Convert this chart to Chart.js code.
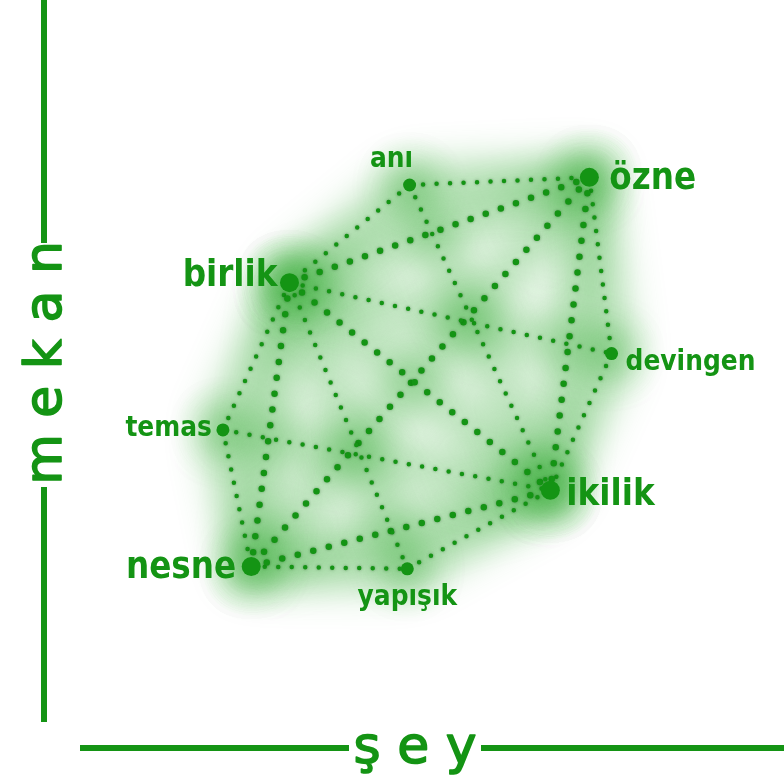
<!DOCTYPE html>
<html><head><meta charset="utf-8">
<script src="https://cdn.jsdelivr.net/npm/chart.js@4/dist/chart.umd.min.js"></script>
<style>html,body{margin:0;padding:0;background:#fff;}#wrap{width:784px;height:782px;}</style>
</head><body><div id="wrap"><canvas id="c" width="784" height="782"></canvas></div>
<script>
// ---- data ----
const nodeNames   = ['anı', 'özne', 'birlik', 'devingen', 'temas', 'ikilik', 'nesne', 'yapışık'];
const seyValues   = [5.23, 7.58, 3.66, 7.87, 2.79, 7.07, 3.16, 5.20];   // horizontal axis "ş e y"
const mekanValues = [7.70, 7.80, 6.42, 5.49, 4.49, 3.70, 2.70, 2.67];   // vertical axis "m e k a n"
const nodeMajor   = [false, true, true, false, false, true, true, false];
const edgeFrom    = ['anı', 'anı',    'anı',    'birlik', 'birlik',   'birlik', 'birlik', 'birlik', 'birlik',  'özne',  'özne',   'özne',     'devingen', 'temas',  'temas', 'nesne',  'nesne',   'yapışık'];
const edgeTo      = ['özne','birlik', 'ikilik', 'özne',   'devingen', 'ikilik', 'nesne',  'temas',  'yapışık', 'nesne', 'ikilik', 'devingen', 'ikilik',   'ikilik', 'nesne', 'ikilik', 'yapışık', 'ikilik'];
const edgeStrong  = [false, false, false, true, false, true, true, false, false, true, true, false, false, false, false, true, false, false];
const axisXTitle  = 'ş e y';
const axisYTitle  = 'm e k a n';

// ---- style ----
const GREEN = '#149414';
const labelStyle = { // dx, dy, align per node
  'anı':      [-18, -18, 'center'],
  'özne':     [ 20,  12, 'left'],
  'birlik':   [-12,   3, 'right'],
  'devingen': [ 14,  16, 'left'],
  'temas':    [-11,   6, 'right'],
  'ikilik':   [ 16,  15, 'left'],
  'nesne':    [-15,  12, 'right'],
  'yapışık':  [  0,  36, 'center']
};

function pt(name){ const i = nodeNames.indexOf(name); return {x: seyValues[i], y: mekanValues[i]}; }

const datasets = [];
datasets.push({
  fx: 'nodes', order: 0,
  data: nodeNames.map((n,i)=>({x: seyValues[i], y: mekanValues[i]})),
  pointRadius: nodeMajor.map(m => m ? 9.5 : 6.5),
  pointBackgroundColor: GREEN, pointBorderWidth: 0, showLine: false
});
edgeFrom.forEach((f,i)=>{
  const s = edgeStrong[i];
  datasets.push({
    fx: 'dots', order: 1,
    data: [pt(f), pt(edgeTo[i])],
    showLine: true, pointRadius: 0,
    borderColor: GREEN, borderWidth: s ? 6.5 : 4.5,
    borderDash: s ? [0, 16] : [0, 13.5], borderCapStyle: 'round'
  });
});
edgeFrom.forEach((f,i)=>{
  datasets.push({
    fx: 'glow', order: 2, clip: false,
    data: [pt(f), pt(edgeTo[i])],
    showLine: true, pointRadius: 0,
    borderColor: '#000', borderWidth: 38, borderCapStyle: 'round'
  });
});

const OFF = 4000;
const fxPlugin = {
  id: 'fx',
  beforeDatasetDraw(chart, args){
    const ds = chart.data.datasets[args.index]; const c = chart.ctx;
    c.save();
    if (ds.fx === 'glow') {
      // draw the stroke off-canvas, keep only its soft shadow
      c.translate(-OFF, 0);
      c.shadowOffsetX = OFF; c.shadowOffsetY = 0;
      c.shadowColor = 'rgba(60,175,60,0.42)'; c.shadowBlur = 38;
    }
    else if (ds.fx === 'dots') { c.shadowColor = 'rgba(0,70,0,0.45)'; c.shadowBlur = 3; }
  },
  afterDatasetDraw(chart){ chart.ctx.restore(); }
};

const labelPlugin = {
  id: 'labels',
  afterDatasetsDraw(chart){
    const c = chart.ctx;
    const meta = chart.getDatasetMeta(0);
    meta.data.forEach((el, i) => {
      const name = nodeNames[i];
      const [dx, dy, align] = labelStyle[name];
      c.save();
      c.translate(el.x + dx, el.y + dy);
      c.scale(0.86, 1);
      c.fillStyle = GREEN;
      c.font = (nodeMajor[i] ? 'bold 38px' : 'bold 29px') + ' "DejaVu Sans", Verdana, sans-serif';
      c.textAlign = align; c.textBaseline = 'alphabetic';
      c.fillText(name, 0, 0);
      c.restore();
    });
  }
};

const axisPlugin = {
  id: 'axisDeco',
  afterDraw(chart){
    const c = chart.ctx; const W = chart.width;
    c.save();
    c.strokeStyle = GREEN; c.fillStyle = GREEN; c.lineWidth = 6; c.lineCap = 'butt';
    c.beginPath();
    c.moveTo(44, 0); c.lineTo(44, 243);
    c.moveTo(44, 487); c.lineTo(44, 722);
    c.moveTo(80, 748); c.lineTo(349, 748);
    c.moveTo(481, 748); c.lineTo(W, 748);
    c.stroke();
    c.font = '52px "DejaVu Sans", Verdana, sans-serif';
    c.textAlign = 'center'; c.textBaseline = 'alphabetic';
    c.lineWidth = 1.6; c.lineJoin = 'round';
    c.fillText(axisXTitle, 415, 763);
    c.strokeText(axisXTitle, 415, 763);
    c.translate(61, 363); c.rotate(-Math.PI/2);
    c.fillText(axisYTitle, 0, 0);
    c.strokeText(axisYTitle, 0, 0);
    c.restore();
  }
};

new Chart(document.getElementById('c'), {
  type: 'scatter',
  data: { datasets },
  options: {
    responsive: false, animation: false, events: [],
    layout: { padding: 0 },
    scales: {
      x: { display: false, min: 0, max: 10 },
      y: { display: false, min: 0, max: 10 }
    },
    plugins: { legend: { display: false }, tooltip: { enabled: false } }
  },
  plugins: [fxPlugin, labelPlugin, axisPlugin]
});
</script></body></html>
